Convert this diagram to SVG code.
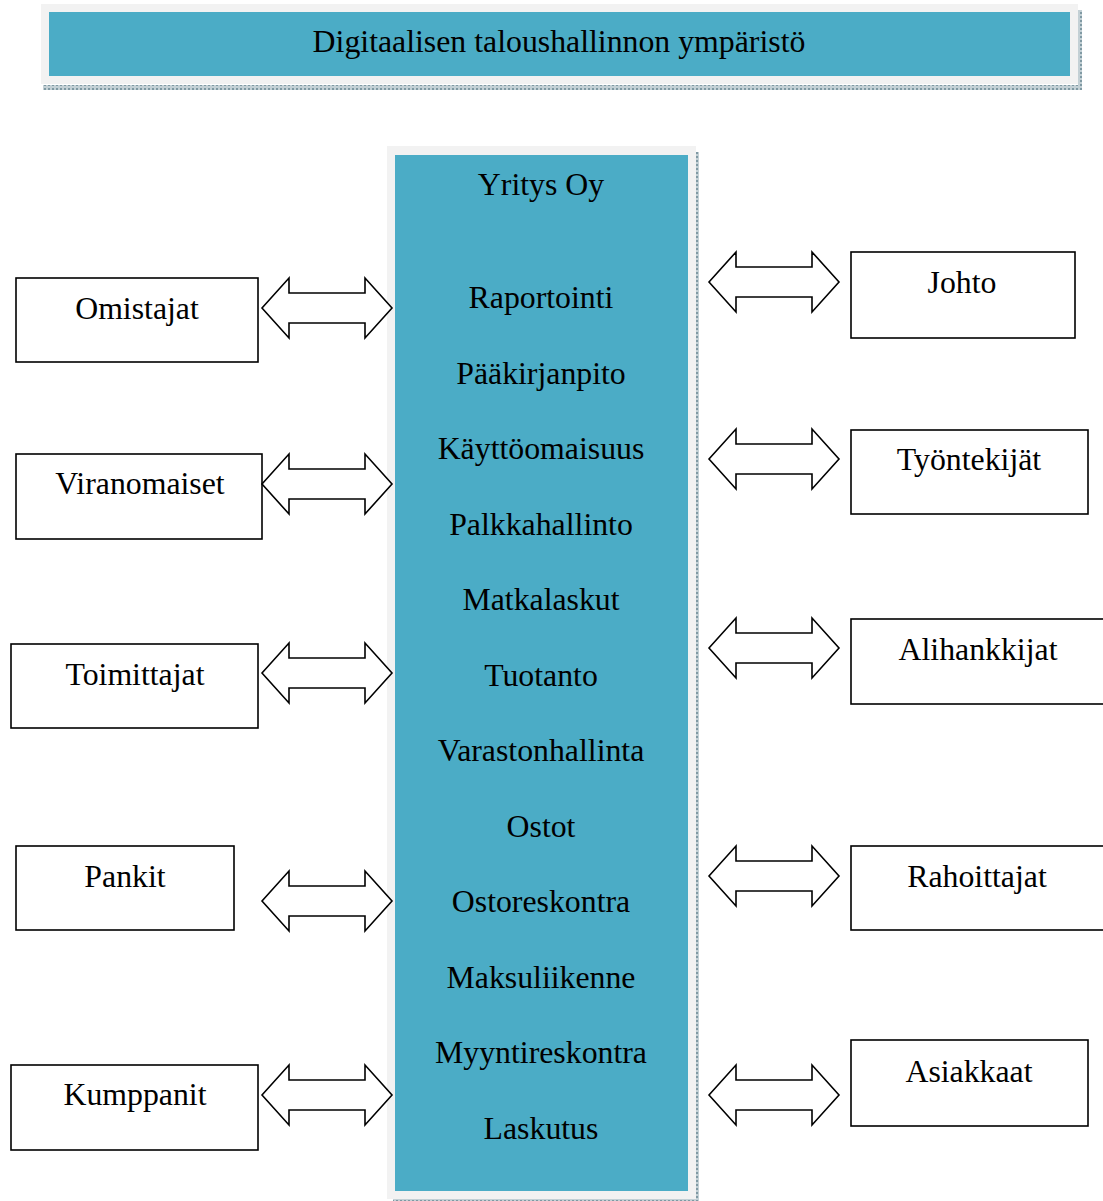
<svg xmlns="http://www.w3.org/2000/svg" width="1103" height="1201" viewBox="0 0 1103 1201">
<style>
.t{font-family:"Liberation Serif","Times New Roman",serif;font-size:31.8px;fill:#000;text-anchor:middle}
.box{fill:#fff;stroke:#000;stroke-width:1.6}
.arr{fill:#fff;stroke:#000;stroke-width:1.6;stroke-linejoin:miter}
.frame{fill:#f2f2f2}
.teal{fill:#4bacc6}
</style>
<defs>
<path id="dbl" d="M0,0 L27,-30 L27,-15 L103,-15 L103,-30 L130,0 L103,30 L103,15 L27,15 L27,30 Z"/>
<pattern id="dots" width="4" height="4" patternUnits="userSpaceOnUse"><rect width="4" height="4" fill="#c3d0d5"/><rect width="2" height="2" fill="#7f99a3"/></pattern>
</defs>
<g id="title">
<rect x="43" y="85" width="1038" height="5" fill="url(#dots)"/>
<rect x="1078" y="10" width="4" height="80" fill="url(#dots)"/>
<rect class="frame" x="41" y="4" width="1037" height="80"/>
<rect class="teal" x="49" y="12" width="1021" height="64"/>
<text class="t" x="559" y="52">Digitaalisen taloushallinnon ympäristö</text>
</g>
<g id="yritys">
<rect x="393" y="1198" width="306" height="3" fill="url(#dots)"/>
<rect x="696" y="152" width="3" height="1049" fill="url(#dots)"/>
<rect class="frame" x="387" y="146" width="309" height="1053"/>
<rect class="teal" x="395" y="155" width="293" height="1036"/>
<text class="t" x="541" y="195">Yritys Oy</text>
<text class="t" x="541" y="308">Raportointi</text>
<text class="t" x="541" y="383.5">Pääkirjanpito</text>
<text class="t" x="541" y="459">Käyttöomaisuus</text>
<text class="t" x="541" y="534.5">Palkkahallinto</text>
<text class="t" x="541" y="610">Matkalaskut</text>
<text class="t" x="541" y="685.5">Tuotanto</text>
<text class="t" x="541" y="761">Varastonhallinta</text>
<text class="t" x="541" y="836.5">Ostot</text>
<text class="t" x="541" y="912">Ostoreskontra</text>
<text class="t" x="541" y="987.5">Maksuliikenne</text>
<text class="t" x="541" y="1063">Myyntireskontra</text>
<text class="t" x="541" y="1138.5">Laskutus</text>
</g>
<g id="omistajat"><rect class="box" x="16" y="278" width="242" height="84"/><text class="t" x="137" y="319">Omistajat</text></g>
<g id="viranomaiset"><rect class="box" x="16" y="454" width="246" height="85"/><text class="t" x="140" y="494">Viranomaiset</text></g>
<g id="toimittajat"><rect class="box" x="11" y="644" width="247" height="84"/><text class="t" x="135" y="685">Toimittajat</text></g>
<g id="pankit"><rect class="box" x="16" y="846" width="218" height="84"/><text class="t" x="125" y="887">Pankit</text></g>
<g id="kumppanit"><rect class="box" x="11" y="1065" width="247" height="85"/><text class="t" x="135" y="1105">Kumppanit</text></g>
<g id="johto"><rect class="box" x="851" y="252" width="224" height="86"/><text class="t" x="962" y="293">Johto</text></g>
<g id="tyontekijat"><rect class="box" x="851" y="430" width="237" height="84"/><text class="t" x="969" y="470">Työntekijät</text></g>
<g id="alihankkijat"><rect class="box" x="851" y="619" width="260" height="85"/><text class="t" x="978" y="660">Alihankkijat</text></g>
<g id="rahoittajat"><rect class="box" x="851" y="846" width="260" height="84"/><text class="t" x="977" y="887">Rahoittajat</text></g>
<g id="asiakkaat"><rect class="box" x="851" y="1040" width="237" height="86"/><text class="t" x="969" y="1082">Asiakkaat</text></g>
<g id="connectors">
<use href="#dbl" class="arr" transform="translate(262,308)"/>
<use href="#dbl" class="arr" transform="translate(262,484)"/>
<use href="#dbl" class="arr" transform="translate(262,673)"/>
<use href="#dbl" class="arr" transform="translate(262,901)"/>
<use href="#dbl" class="arr" transform="translate(262,1095)"/>
<use href="#dbl" class="arr" transform="translate(709,282)"/>
<use href="#dbl" class="arr" transform="translate(709,459)"/>
<use href="#dbl" class="arr" transform="translate(709,648)"/>
<use href="#dbl" class="arr" transform="translate(709,876)"/>
<use href="#dbl" class="arr" transform="translate(709,1095)"/>
</g>
</svg>
